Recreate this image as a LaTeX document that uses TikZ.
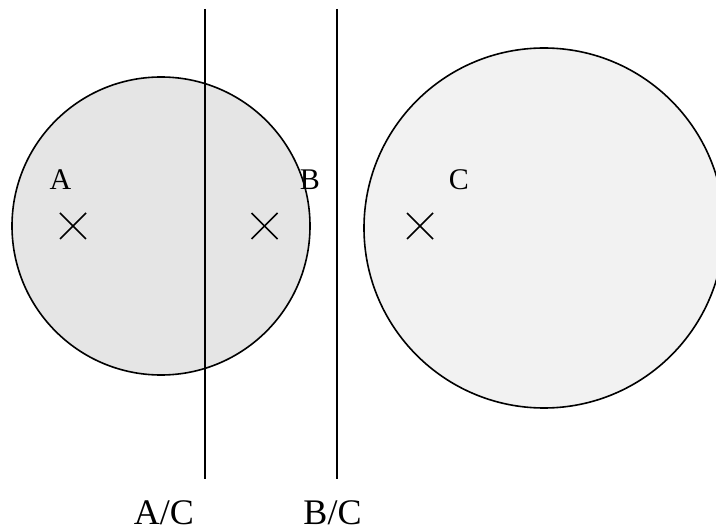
\documentclass[tikz,border=0pt]{standalone}
\usepackage{fontspec}
\setmainfont{Liberation Serif}
\begin{document}
\begin{tikzpicture}[x=1pt,y=-1pt,
  circ/.style={draw=black,line width=1.6pt},
  vline/.style={draw=black,line width=2pt},
  crossmark/.style={draw=black,line width=1.5pt},
  lab/.style={anchor=base,inner sep=0pt,font=\fontsize{30}{33}\selectfont},
  biglab/.style={anchor=base,inner sep=0pt,font=\fontsize{36}{40}\selectfont}]
\useasboundingbox (0,0) rectangle (716,532);
\begin{scope}
\clip (0,0) rectangle (716,532);
\path[circ,fill=black!10] (161,226) circle[radius=149];
\path[circ,fill=black!5] (544,228) circle[radius=180];
\end{scope}
\coordinate (l1t) at (204.5,9);
\coordinate (l1b) at (204.5,479);
\coordinate (l2t) at (336.5,9);
\coordinate (l2b) at (336.5,479);
\draw[vline] (l1t) -- (l1b);
\draw[vline] (l2t) -- (l2b);
\foreach \n/\x in {ca/73,cb/264.5,cc/420}{
  \coordinate (\n) at (\x,226);
  \draw[crossmark] ([shift={(-13,-13)}]\n) -- ([shift={(13,13)}]\n);
  \draw[crossmark] ([shift={(-13,13)}]\n) -- ([shift={(13,-13)}]\n);
}
\node[lab] (A) at (60.5,189.5) {A};
\node[lab] (B) at (310,189.5) {B};
\node[lab] (C) at (459,189.5) {C};
\node[biglab] (AC) at (164,524.5) {A/C};
\node[biglab] (BC) at (332.5,524.5) {B/C};
\end{tikzpicture}
\end{document}
